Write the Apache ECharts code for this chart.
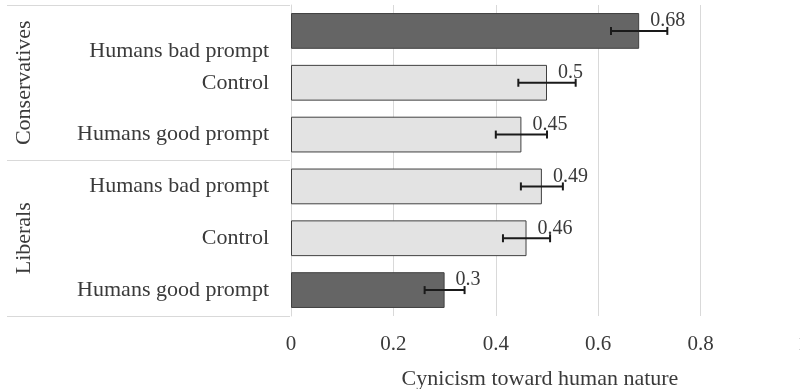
<!DOCTYPE html>
<html>
<head>
<meta charset="utf-8">
<script src="https://cdn.jsdelivr.net/npm/echarts@6/dist/echarts.min.js"></script>
<style>html,body{margin:0;padding:0;background:#fff}#c{width:800px;height:389px}</style>
</head>
<body>
<div id="c"></div>
<script>
const categories = ['Humans bad prompt', 'Control', 'Humans good prompt', 'Humans bad prompt', 'Control', 'Humans good prompt'];
const groups = ['Conservatives', 'Liberals'];
const values = [0.68, 0.5, 0.45, 0.49, 0.46, 0.3];
const errors = [0.055, 0.056, 0.05, 0.041, 0.046, 0.039];
const xTicks = [0, 0.2, 0.4, 0.6, 0.8, 1];

const darkBarIndex = [0, 5];
const FONT = 'Liberation Serif';
const TXT = '#3a3a3a';

const chart = echarts.init(document.getElementById('c'), null, {renderer: 'canvas'});
const errData = values.map((v, i) => [i, v - errors[i], v + errors[i]]);

chart.setOption({
  animation: false,
  grid: {left: 291, top: 5, width: 512, height: 311, containLabel: false, outerBoundsMode: 'none'},
  xAxis: {
    type: 'value', min: xTicks[0], max: xTicks[xTicks.length - 1], interval: 0.2,
    axisLine: {show: false}, axisTick: {show: false},
    splitLine: {lineStyle: {color: '#d9d9d9', width: 1}},
    axisLabel: {fontFamily: FONT, fontSize: 21, color: TXT, margin: 18,
      formatter: v => String(Math.round(v * 10) / 10)},
    name: 'Cynicism toward human nature', nameLocation: 'middle', nameGap: 52,
    nameTextStyle: {fontFamily: FONT, fontSize: 22, color: TXT, padding: [0, 14, 0, 0]}
  },
  yAxis: [{
    type: 'category', data: categories, inverse: true,
    axisLine: {show: true, lineStyle: {color: '#d9d9d9', width: 1}},
    axisTick: {show: false},
    axisLabel: {
      interval: 0,
      fontFamily: FONT, fontSize: 22, color: TXT, margin: 22,
      formatter: (v, i) => i === 0 ? '{s|' + v + '}' : v,
      rich: {s: {fontFamily: FONT, fontSize: 22, color: TXT, padding: [40, 0, 0, 0]}}
    }
  }, {
    type: 'category', data: groups, inverse: true, position: 'left', offset: 284,
    axisLine: {show: false},
    axisTick: {show: true, inside: true, interval: 0, length: 283, lineStyle: {color: '#d9d9d9', width: 1}},
    axisLabel: {inside: true, interval: 0, rotate: 90, margin: 17, align: 'center', verticalAlign: 'middle',
      fontFamily: FONT, fontSize: 22, color: TXT}
  }],
  series: [{
    type: 'bar', yAxisIndex: 0, data: values, barCategoryGap: '31%',
    itemStyle: {
      color: p => darkBarIndex.includes(p.dataIndex) ? '#656565' : '#e3e3e3',
      borderColor: '#404040', borderWidth: 1
    },
    label: {show: true, position: 'right', distance: 11, offset: [0, -10],
      fontFamily: FONT, fontSize: 20, color: TXT, formatter: p => String(p.value)}
  }, {
    type: 'custom', yAxisIndex: 0, data: errData, encode: {x: [1, 2], y: 0}, z: 5,
    renderItem: (params, api) => {
      const y = api.value(0);
      const a = api.coord([api.value(1), y]);
      const b = api.coord([api.value(2), y]);
      const h = 4;
      const st = {stroke: '#1a1a1a', lineWidth: 2};
      return {type: 'group', children: [
        {type: 'line', shape: {x1: a[0], y1: a[1], x2: b[0], y2: b[1]}, style: st},
        {type: 'line', shape: {x1: a[0], y1: a[1] - h, x2: a[0], y2: a[1] + h}, style: st},
        {type: 'line', shape: {x1: b[0], y1: b[1] - h, x2: b[0], y2: b[1] + h}, style: st}
      ]};
    }
  }]
});
</script>
</body>
</html>
